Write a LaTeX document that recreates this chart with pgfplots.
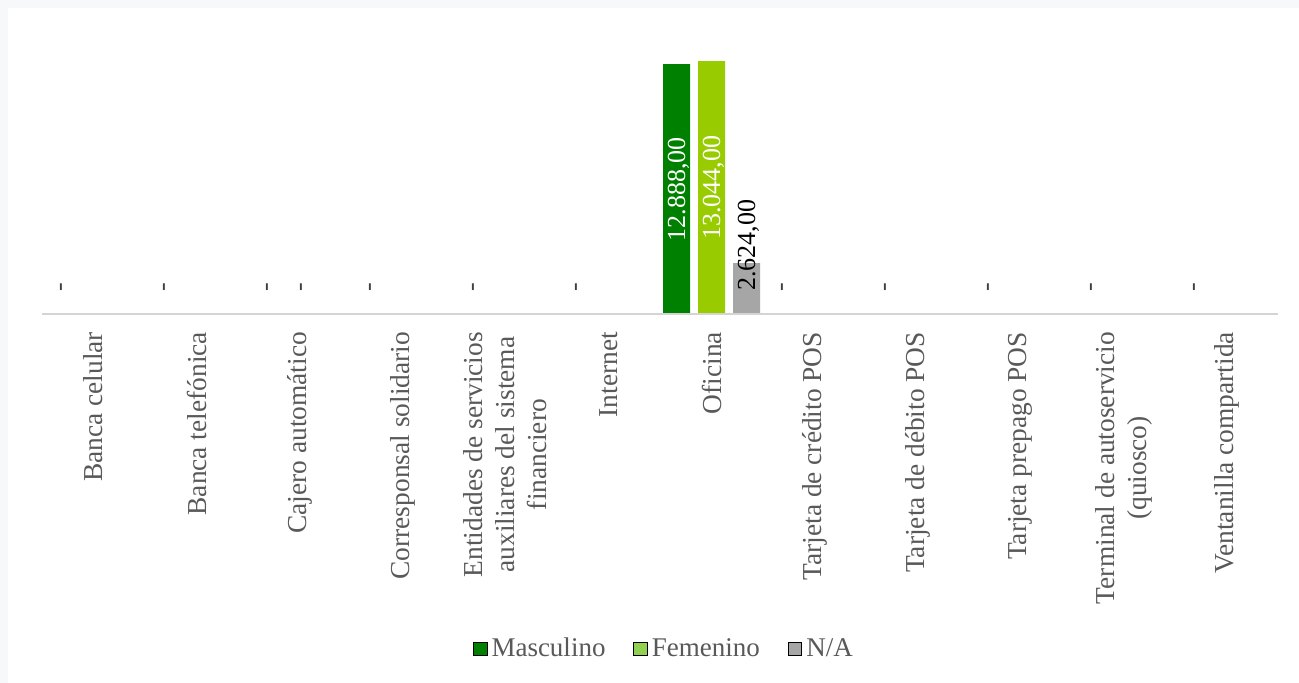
\documentclass[border=0pt]{standalone}
\usepackage{pgfplots}
\pgfplotsset{compat=1.18}
\usepackage{fontspec}
\setmainfont{Liberation Serif}
\definecolor{masc}{HTML}{008000}
\definecolor{fem}{HTML}{99CC00}
\definecolor{femleg}{HTML}{92D050}
\definecolor{na}{HTML}{A6A6A6}
\definecolor{txt}{HTML}{595959}
\definecolor{dash}{HTML}{404040}
\definecolor{axisgray}{HTML}{D4D4D4}
\definecolor{bg}{HTML}{F7F8FA}
\begin{document}
\begin{tikzpicture}
\fill[bg] (0pt,0pt) rectangle (649.5pt,-341.5pt);
\fill[white] (4pt,-4pt) rectangle (649.5pt,-341.5pt);
\begin{axis}[
  at={(21pt,-157pt)}, anchor=south west,
  scale only axis, width=618pt, height=135.75pt,
  xmin=-0.5, xmax=11.5, ymin=0, ymax=14000,
  axis on top,
  axis y line=none, ytick=\empty,
  axis x line*=bottom,
  x axis line style={draw=axisgray, line width=1.1pt, -},
  ybar, bar width=13.5pt,
  xtick={0,...,11}, major tick length=0pt,
  xticklabels={Banca celular, Banca telefónica, Cajero automático, Corresponsal solidario, {Entidades de servicios\\auxiliares del sistema\\financiero}, Internet, Oficina, Tarjeta de crédito POS, Tarjeta de débito POS, Tarjeta prepago POS, {Terminal de autoservicio\\(quiosco)}, Ventanilla compartida},
  xticklabel style={yshift=-5.5pt, rotate=90, anchor=east, align=center, font=\fontsize{13.7}{16}\selectfont, text=txt},
  legend style={at={(0.504,-1.234)}, anchor=center, draw=none, fill=none, legend columns=3, font=\fontsize{13.5}{16}\selectfont, text=txt, /tikz/every even column/.append style={column sep=12pt}},
  legend image code/.code={\fill[#1] (0pt,-3.4pt) rectangle (6.8pt,3.4pt);},
  point meta=explicit symbolic,
  visualization depends on=y \as \rawy,
]
\addplot[forget plot, fill=masc, draw=none, bar shift=-17.5pt,
  nodes near coords,
  every node near coord/.append style={shift={(axis direction cs:0,{ifthenelse(\rawy==0,1400,-\rawy/2)})}, xshift={ifthenelse(\rawy==0,2.5,1)}, rotate=90, anchor=center, font=\fontsize{13}{15}\selectfont, text=dash}]
  coordinates {(0,0) [-] (1,0) [-] (2,0) [-] (3,0) [-] (4,0) [-] (5,0) [-] (6,12888) [\textcolor{white}{12.888,00}] (7,0) [-] (8,0) [-] (9,0) [-] (10,0) [-] (11,0) [-]};
\addplot[forget plot, fill=fem, draw=none, bar shift=0pt,
  nodes near coords,
  every node near coord/.append style={shift={(axis direction cs:0,{ifthenelse(\rawy==0,1400,-\rawy/2)})}, xshift={ifthenelse(\rawy==0,2,1)}, rotate=90, anchor=center, font=\fontsize{13}{15}\selectfont, text=dash}]
  coordinates {(0,0) [] (1,0) [] (2,0) [-] (3,0) [] (4,0) [] (5,0) [] (6,13044) [\textcolor{white}{13.044,00}] (7,0) [] (8,0) [] (9,0) [] (10,0) [] (11,0) []};
\addplot[forget plot, fill=na, draw=none, bar shift=17.5pt,
  nodes near coords,
  every node near coord/.append style={yshift=9pt, xshift=1pt, rotate=90, anchor=center, font=\fontsize{13}{15}\selectfont, text=black}]
  coordinates {(0,0) [] (1,0) [] (2,0) [] (3,0) [] (4,0) [] (5,0) [] (6,2624) [2.624,00] (7,0) [] (8,0) [] (9,0) [] (10,0) [] (11,0) []};
\addlegendimage{fill=masc}
\addlegendentry{Masculino}
\addlegendimage{fill=femleg}
\addlegendentry{Femenino}
\addlegendimage{fill=na}
\addlegendentry{N/A}
\end{axis}
\pgfresetboundingbox
\path[use as bounding box] (0pt,0pt) rectangle (649.5pt,-341.5pt);
\end{tikzpicture}
\end{document}
